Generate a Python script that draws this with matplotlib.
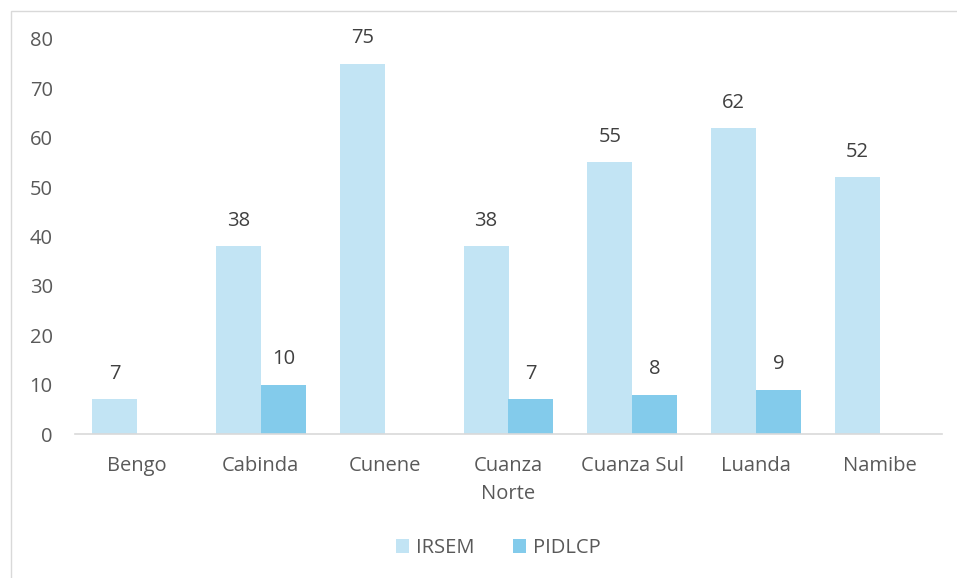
import numpy as np
import matplotlib.pyplot as plt
from matplotlib.patches import Rectangle

plt.rcParams["font.family"] = ["Open Sans", "DejaVu Sans"]

provinces = ["Bengo", "Cabinda", "Cunene", "Cuanza\nNorte", "Cuanza Sul", "Luanda", "Namibe"]
irsem = [7, 38, 75, 38, 55, 62, 52]
pidlcp = [0, 10, 0, 7, 8, 9, 0]

c_irsem = "#C2E4F4"
c_pidlcp = "#83CBEB"
txt = "#595959"
fs = 14.5

fig = plt.figure(figsize=(9.57, 5.78), dpi=100)
fig.patches.append(Rectangle((11 / 957, -0.1), 1.2, 1 - 11 / 578 + 0.1, transform=fig.transFigure,
                             fill=False, edgecolor="#D9D9D9", linewidth=1))
ax = fig.add_axes([75 / 957, 1 - 434 / 578, 867 / 957, 395 / 578])

x = np.arange(len(provinces))
w = 0.363
b1 = ax.bar(x - w / 2, irsem, w, color=c_irsem, label="IRSEM")
b2 = ax.bar(x + w / 2, pidlcp, w, color=c_pidlcp, label="PIDLCP")

for bars, vals in [(b1, irsem), (b2, pidlcp)]:
    for r, v in zip(bars, vals):
        if v == 0:
            continue
        ax.annotate(str(v), (r.get_x() + r.get_width() / 2, v), xytext=(0, 11),
                    textcoords="offset points", ha="center", va="bottom",
                    fontsize=fs, color="#404040")

ax.set_xlim(-0.5, len(provinces) - 0.5)
ax.set_ylim(0, 80)
ax.set_yticks(range(0, 81, 10))
ax.set_xticks(x)
ax.set_xticklabels(provinces, linespacing=1.5)
ax.tick_params(axis="both", length=0, labelsize=fs, labelcolor=txt)
ax.tick_params(axis="y", pad=16)
ax.tick_params(axis="x", pad=16)
for s in ["top", "right", "left"]:
    ax.spines[s].set_visible(False)
ax.spines["bottom"].set_color("#D9D9D9")
ax.spines["bottom"].set_linewidth(1.2)

leg = fig.legend(handles=[b1, b2], loc="center", bbox_to_anchor=(498 / 957, 1 - 548 / 578), ncol=2,
                 frameon=False, fontsize=fs, handlelength=0.65, handleheight=0.65,
                 handletextpad=0.35, columnspacing=1.9)
for t in leg.get_texts():
    t.set_color(txt)

fig.savefig("out.png", dpi=100)
